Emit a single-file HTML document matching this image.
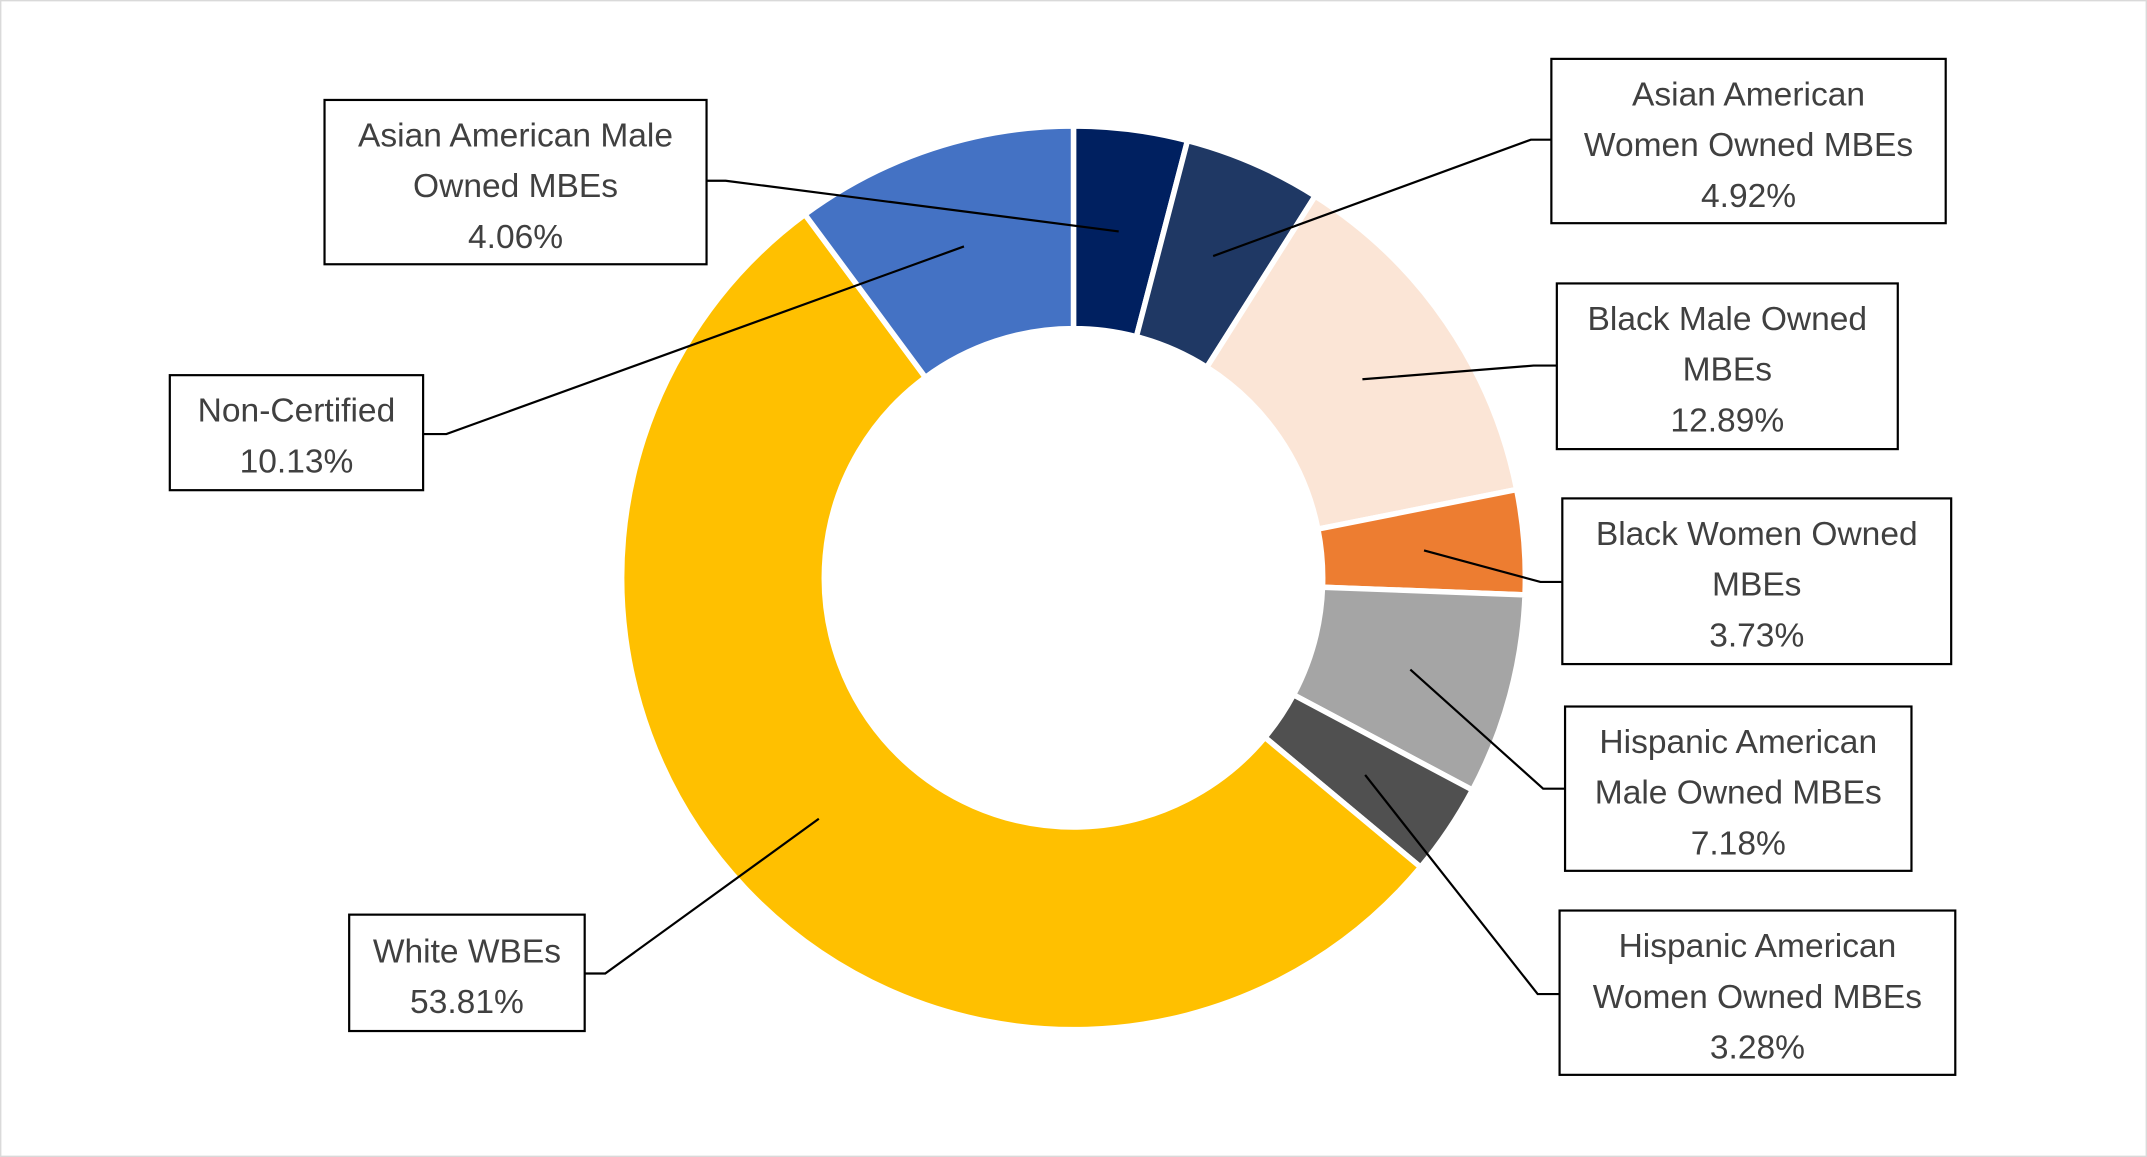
<!DOCTYPE html>
<html><head><meta charset="utf-8"><style>
html,body{margin:0;padding:0;background:#fff;}
svg{display:block;}
text{font-family:"Liberation Sans","DejaVu Sans",sans-serif;font-size:24.5px;fill:#404040;text-anchor:middle;}
</style></head><body>
<svg id="s" width="2147" height="1157" viewBox="0 0 1568 845" xmlns="http://www.w3.org/2000/svg">
<rect x="0.5" y="0.5" width="1567" height="844" fill="#fff" stroke="#d9d9d9" stroke-width="1"/>
<g id="donut"></g>
<g stroke="#000" stroke-width="1.6" fill="none">
<polyline points="516,132 530,132 817,169"/>
<polyline points="886,187 1118,102 1133,102"/>
<polyline points="995,277 1120,267 1137,267"/>
<polyline points="1040,402 1125,425 1141,425"/>
<polyline points="1030,489 1127,576 1143,576"/>
<polyline points="997,566 1123,726 1139,726"/>
<polyline points="598,598 442,711 427,711"/>
<polyline points="704,180 326,317 309,317"/>
</g>
<g fill="#fff" stroke="#000" stroke-width="1.6">
<rect x="237" y="73" width="279" height="120"/>
<rect x="1133" y="43" width="288" height="120"/>
<rect x="1137" y="207" width="249" height="121"/>
<rect x="1141" y="364" width="284" height="121"/>
<rect x="1143" y="516" width="253" height="120"/>
<rect x="1139" y="665" width="289" height="120"/>
<rect x="255" y="668" width="172" height="85"/>
<rect x="124" y="274" width="185" height="84"/>
</g>
<g>
<text x="376.5" y="107">Asian American Male</text><text x="376.5" y="144">Owned MBEs</text><text x="376.5" y="181">4.06%</text>
<text x="1277" y="77">Asian American</text><text x="1277" y="114">Women Owned MBEs</text><text x="1277" y="151">4.92%</text>
<text x="1261.5" y="241">Black Male Owned</text><text x="1261.5" y="278">MBEs</text><text x="1261.5" y="315">12.89%</text>
<text x="1283" y="398">Black Women Owned</text><text x="1283" y="435">MBEs</text><text x="1283" y="472">3.73%</text>
<text x="1269.5" y="550">Hispanic American</text><text x="1269.5" y="587">Male Owned MBEs</text><text x="1269.5" y="624">7.18%</text>
<text x="1283.5" y="699">Hispanic American</text><text x="1283.5" y="736">Women Owned MBEs</text><text x="1283.5" y="773">3.28%</text>
<text x="341" y="703">White WBEs</text><text x="341" y="740">53.81%</text>
<text x="216.5" y="308">Non-Certified</text><text x="216.5" y="345">10.13%</text>
</g>
</svg>
<script>
(function(){
var d=[[4.06,"#002060"],[4.92,"#1f3864"],[12.89,"#fbe5d6"],[3.73,"#ed7d31"],[7.18,"#a5a5a5"],[3.28,"#505050"],[53.81,"#ffc000"],[10.13,"#4472c4"]];
var tot=0;d.forEach(function(x){tot+=x[0];});
var cx=784,cy=422,R=330,r=182,a=0,out="";
function p(rad,ang){return [cx+rad*Math.sin(ang),cy-rad*Math.cos(ang)];}
d.forEach(function(x){
 var a2=a+x[0]/tot*2*Math.PI,l=(a2-a)>Math.PI?1:0;
 var p1=p(R,a),p2=p(R,a2),p3=p(r,a2),p4=p(r,a);
 out+='<path d="M'+p1+' A'+R+','+R+' 0 '+l+' 1 '+p2+' L'+p3+' A'+r+','+r+' 0 '+l+' 0 '+p4+' Z" fill="'+x[1]+'" stroke="#fff" stroke-width="4" stroke-linejoin="miter"/>';
 a=a2;});
document.getElementById("donut").innerHTML=out;
})();
</script>
</body></html>
